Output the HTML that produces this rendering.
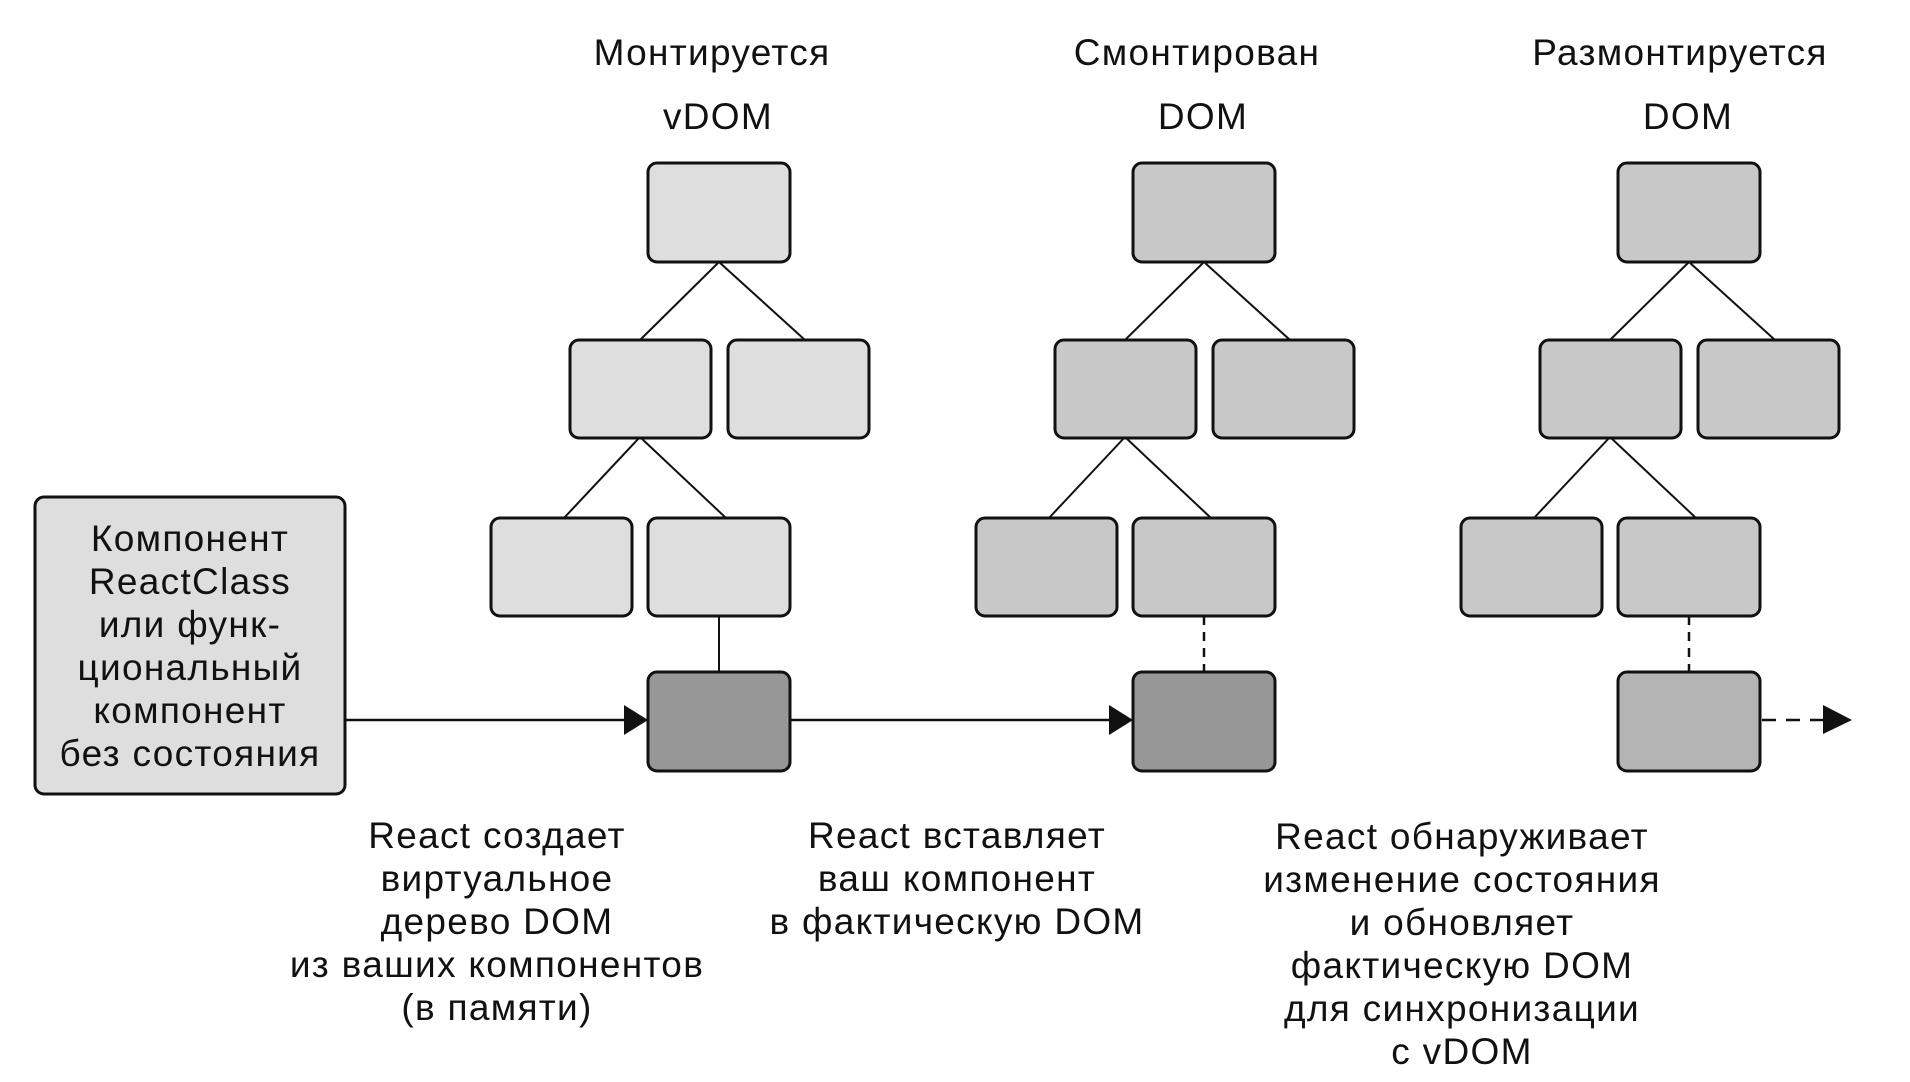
<!DOCTYPE html>
<html><head><meta charset="utf-8"><style>
html,body{margin:0;padding:0;background:#fff;}
svg{display:block;}
text{font-family:"Liberation Sans",sans-serif;font-size:37px;letter-spacing:1.3px;fill:#111;text-anchor:middle;}
</style></head><body>
<svg width="1910" height="1082" viewBox="0 0 1910 1082" xmlns="http://www.w3.org/2000/svg">
<defs>
<g id="tree">
  <line x1="719" y1="262" x2="640" y2="340" stroke="#111" stroke-width="2"/>
  <line x1="719" y1="262" x2="805" y2="340" stroke="#111" stroke-width="2"/>
  <line x1="640" y1="437" x2="564" y2="518" stroke="#111" stroke-width="2"/>
  <line x1="640" y1="437" x2="726" y2="518" stroke="#111" stroke-width="2"/>
</g>
</defs>
<rect x="35" y="497" width="310" height="297" rx="9" fill="#dedede" stroke="#111" stroke-width="3"/>
<text x="190" y="551">Компонент</text>
<text x="190" y="594">ReactClass</text>
<text x="190" y="637">или функ-</text>
<text x="190" y="680">циональный</text>
<text x="190" y="723">компонент</text>
<text x="190" y="766">без состояния</text>

<text x="712" y="65">Монтируется</text>
<text x="718" y="129">vDOM</text>
<text x="1197" y="65">Смонтирован</text>
<text x="1203" y="129">DOM</text>
<text x="1680" y="65">Размонтируется</text>
<text x="1688" y="129">DOM</text>

<use href="#tree"/>
<g stroke="#111" stroke-width="3" fill="#dedede">
<rect x="648" y="163" width="142" height="99" rx="9"/>
<rect x="570" y="340" width="141" height="98" rx="9"/>
<rect x="728" y="340" width="141" height="98" rx="9"/>
<rect x="491" y="518" width="141" height="98" rx="9"/>
<rect x="648" y="518" width="142" height="98" rx="9"/>
</g>
<line x1="719" y1="616" x2="719" y2="672" stroke="#111" stroke-width="2"/>
<rect x="648" y="672" width="142" height="99" rx="9" fill="#979797" stroke="#111" stroke-width="3"/>

<use href="#tree" x="485"/>
<g stroke="#111" stroke-width="3" fill="#c8c8c8" transform="translate(485,0)">
<rect x="648" y="163" width="142" height="99" rx="9"/>
<rect x="570" y="340" width="141" height="98" rx="9"/>
<rect x="728" y="340" width="141" height="98" rx="9"/>
<rect x="491" y="518" width="141" height="98" rx="9"/>
<rect x="648" y="518" width="142" height="98" rx="9"/>
</g>
<line x1="1204" y1="616" x2="1204" y2="672" stroke="#111" stroke-width="2.5" stroke-dasharray="9,7"/>
<rect x="1133" y="672" width="142" height="99" rx="9" fill="#979797" stroke="#111" stroke-width="3"/>

<use href="#tree" x="970"/>
<g stroke="#111" stroke-width="3" fill="#c8c8c8" transform="translate(970,0)">
<rect x="648" y="163" width="142" height="99" rx="9"/>
<rect x="570" y="340" width="141" height="98" rx="9"/>
<rect x="728" y="340" width="141" height="98" rx="9"/>
<rect x="491" y="518" width="141" height="98" rx="9"/>
<rect x="648" y="518" width="142" height="98" rx="9"/>
</g>
<line x1="1689" y1="616" x2="1689" y2="672" stroke="#111" stroke-width="2.5" stroke-dasharray="9,7"/>
<rect x="1618" y="672" width="142" height="99" rx="9" fill="#b4b4b4" stroke="#111" stroke-width="3"/>

<line x1="345" y1="720" x2="626" y2="720" stroke="#111" stroke-width="2.5"/>
<polygon points="624,705 648,720 624,735" fill="#111"/>
<line x1="790" y1="720" x2="1111" y2="720" stroke="#111" stroke-width="2.5"/>
<polygon points="1109,705 1133,720 1109,735" fill="#111"/>
<line x1="1762" y1="720" x2="1826" y2="720" stroke="#111" stroke-width="2.5" stroke-dasharray="14,10"/>
<polygon points="1823,705 1852,720 1823,734" fill="#111"/>

<text x="497" y="848">React создает</text>
<text x="497" y="891">виртуальное</text>
<text x="497" y="934">дерево DOM</text>
<text x="497" y="977">из ваших компонентов</text>
<text x="497" y="1020">(в памяти)</text>

<text x="957" y="848">React вставляет</text>
<text x="957" y="891">ваш компонент</text>
<text x="957" y="934">в фактическую DOM</text>

<text x="1462" y="849">React обнаруживает</text>
<text x="1462" y="892">изменение состояния</text>
<text x="1462" y="935">и обновляет</text>
<text x="1462" y="978">фактическую DOM</text>
<text x="1462" y="1021">для синхронизации</text>
<text x="1462" y="1064">с vDOM</text>
</svg>
</body></html>
